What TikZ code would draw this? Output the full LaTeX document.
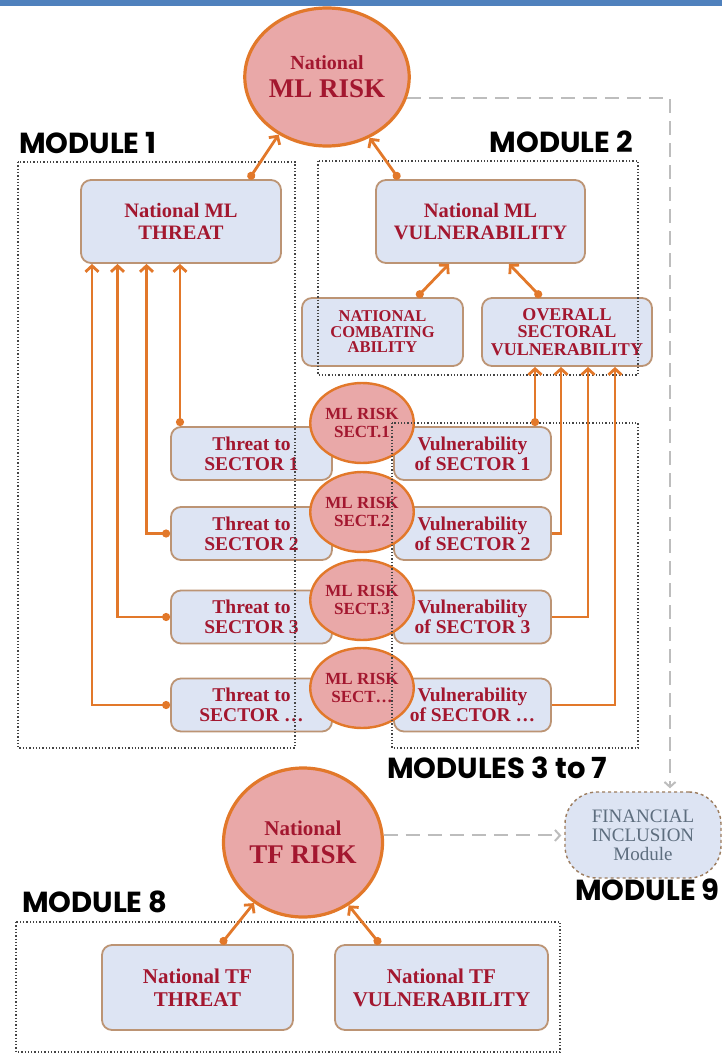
\documentclass[tikz,border=0pt]{standalone}
\usepackage{fontspec}
\setmainfont{Liberation Serif}
\newfontfamily\modfont{Poppins}
\usetikzlibrary{shapes.geometric,arrows.meta}
\definecolor{topblue}{HTML}{4F81BD}
\definecolor{boxfill}{HTML}{DDE4F3}
\definecolor{boxborder}{HTML}{BC9474}
\definecolor{txtred}{HTML}{A3172F}
\definecolor{circfill}{HTML}{E9A8A8}
\definecolor{lineorange}{HTML}{E2782A}
\definecolor{dashgrey}{HTML}{BDBDBD}
\definecolor{frameclr}{HTML}{444444}
\definecolor{fitext}{HTML}{5D6D7E}
\definecolor{fiborder}{HTML}{9C7C5E}
\tikzset{
  box/.style={draw=boxborder, fill=boxfill, rounded corners=10pt, line width=1.8pt,
    text=txtred, align=center, inner sep=0pt},
  bigcirc/.style={ellipse, draw=lineorange, fill=circfill, line width=3.2pt, text=txtred,
    align=center, inner sep=0pt, font=\bfseries\fontsize{27}{28}\selectfont},
  smallcirc/.style={ellipse, draw=lineorange, fill=circfill, line width=2.4pt, text=txtred,
    align=center, inner sep=0pt, font=\bfseries\fontsize{17}{18}\selectfont},
  sectbox/.style={box, minimum height=53pt, font=\bfseries\fontsize{19.5}{20}\selectfont},
  modlabel/.style={font=\modfont\bfseries\fontsize{29}{30}\selectfont, inner sep=0pt, text=black},
  frame/.style={draw=frameclr, dotted, line width=1.3pt},
  conn/.style={draw=lineorange, line width=2.8pt, -{Straight Barb[length=6pt,width=13pt]}},
  dconn/.style={draw=lineorange, line width=2.8pt, {Circle[length=8pt]}-{Straight Barb[length=6pt,width=13pt]}},
  gconn/.style={draw=dashgrey, line width=2pt, dash pattern=on 14pt off 8pt,
    -{Straight Barb[length=5pt,width=11pt]}, shorten >=3pt},
}
\begin{document}
\begin{tikzpicture}[x=1pt,y=-1pt]
\useasboundingbox (0,0) rectangle (722,1055);
\fill[topblue] (0,0) rectangle (722,6);

% ML risk
\node[bigcirc, minimum width=156pt, minimum height=138pt] (mlrisk) at (327,77)
  {{\fontsize{20}{24}\selectfont National}\\ML RISK};

% Module 1 / 2 main boxes
\node[box, minimum width=200pt, minimum height=83pt, font=\bfseries\fontsize{20.5}{22}\selectfont] (thr) at (181,221.5)
  {National ML\\THREAT};
\node[box, minimum width=209pt, minimum height=83pt, font=\bfseries\fontsize{20.5}{22}\selectfont] (vul) at (480.5,221.5)
  {National ML\\VULNERABILITY};
\node[box, minimum width=161pt, minimum height=68pt, font=\bfseries\fontsize{16.5}{15.5}\selectfont] (comb) at (382.5,332)
  {NATIONAL\\COMBATING\\ABILITY};
\node[box, minimum width=170pt, minimum height=68pt, font=\bfseries\fontsize{18}{17.5}\selectfont] (over) at (567,332)
  {OVERALL\\SECTORAL\\VULNERABILITY};

% sector boxes
\node[sectbox, minimum width=161pt] (ts1) at (251.5,453.5) {Threat to\\SECTOR 1};
\node[sectbox, minimum width=161pt] (ts2) at (251.5,533.5) {Threat to\\SECTOR 2};
\node[sectbox, minimum width=161pt] (ts3) at (251.5,617) {Threat to\\SECTOR 3};
\node[sectbox, minimum width=161pt] (ts4) at (251.5,705) {Threat to\\SECTOR \ldots};
\node[sectbox, minimum width=157pt] (vs1) at (472.5,453.5) {Vulnerability\\of SECTOR 1};
\node[sectbox, minimum width=157pt] (vs2) at (472.5,533.5) {Vulnerability\\of SECTOR 2};
\node[sectbox, minimum width=157pt] (vs3) at (472.5,617) {Vulnerability\\of SECTOR 3};
\node[sectbox, minimum width=157pt] (vs4) at (472.5,705) {Vulnerability\\of SECTOR \ldots};

\node[smallcirc, minimum width=84pt, minimum height=80pt] (rs1) at (362,423) {ML RISK\\SECT.1};
\node[smallcirc, minimum width=84pt, minimum height=80pt] (rs2) at (362,512) {ML RISK\\SECT.2};
\node[smallcirc, minimum width=84pt, minimum height=80pt] (rs3) at (362,600) {ML RISK\\SECT.3};
\node[smallcirc, minimum width=84pt, minimum height=80pt] (rs4) at (362,688) {ML RISK\\SECT\ldots};

% TF risk
\node[bigcirc, minimum width=159pt, minimum height=149pt] (tfrisk) at (303,842.5)
  {{\fontsize{21}{24}\selectfont National}\\TF RISK};
\node[box, minimum width=191pt, minimum height=85pt, font=\bfseries\fontsize{21}{23}\selectfont] (tft) at (197.5,987.5)
  {National TF\\THREAT};
\node[box, minimum width=213pt, minimum height=85pt, font=\bfseries\fontsize{21}{23}\selectfont] (tfv) at (441.5,987.5)
  {National TF\\VULNERABILITY};

% financial inclusion
\node[draw=fiborder, dashed, fill=boxfill, line width=1.4pt, rounded corners=32pt,
  minimum width=156pt, minimum height=86pt, text=fitext, align=center, inner sep=0pt,
  font=\fontsize{19}{19}\selectfont] (fi) at (643,835) {FINANCIAL\\INCLUSION\\Module};

% module frames
\draw[frame] (18,162) rectangle (295,748);
\draw[frame] (318,161) rectangle (638,375);
\draw[frame] (392,423) rectangle (638,748);
\draw[frame] (16,922) rectangle (560,1052);

% module labels
\node[modlabel, anchor=west] (m1) at (19,143) {MODULE 1};
\node[modlabel, anchor=east] (m2) at (633,142) {MODULE 2};
\node[modlabel, anchor=west] (m37) at (387,768) {MODULES 3 to 7};
\node[modlabel, anchor=west] (m8) at (22,902) {MODULE 8};
\node[modlabel, anchor=east] (m9) at (720,890) {MODULE 9};

% connectors to ML risk
\draw[dconn] ([xshift=68pt]thr.north) -- (mlrisk.230);
\draw[dconn] ([xshift=-81.5pt]vul.north) -- (mlrisk.305);
\draw[dconn] ([xshift=34.5pt]comb.north) -- ([xshift=-31.5pt]vul.south);
\draw[dconn] ([xshift=-26pt]over.north) -- ([xshift=28.5pt]vul.south);

% threat sector lines
\draw[dconn] ([xshift=-71.5pt]ts1.north) -- ([xshift=-71.5pt]ts1.north |- thr.south);
\draw[dconn] (ts2.west) -| ([xshift=-34.5pt]thr.south);
\draw[dconn] (ts3.west) -| ([xshift=-63.5pt]thr.south);
\draw[dconn] (ts4.west) -| ([xshift=-89pt]thr.south);

% vulnerability sector lines
\draw[dconn] ([xshift=62.5pt]vs1.north) -- ([xshift=62.5pt]vs1.north |- over.south);
\draw[conn] (vs2.east) -| ([xshift=-6pt]over.south);
\draw[conn] (vs3.east) -| ([xshift=21pt]over.south);
\draw[conn] (vs4.east) -| ([xshift=48pt]over.south);

% TF connectors
\draw[dconn] ([xshift=23.5pt]tft.north) -- (tfrisk.231);
\draw[dconn] ([xshift=-61.5pt]tfv.north) -- (tfrisk.306);

% grey dashed
\draw[gconn] (mlrisk.345) -| ([xshift=27pt]fi.north);
\draw[gconn] (tfrisk.5) -- (tfrisk.5 -| fi.west);
\end{tikzpicture}
\end{document}
